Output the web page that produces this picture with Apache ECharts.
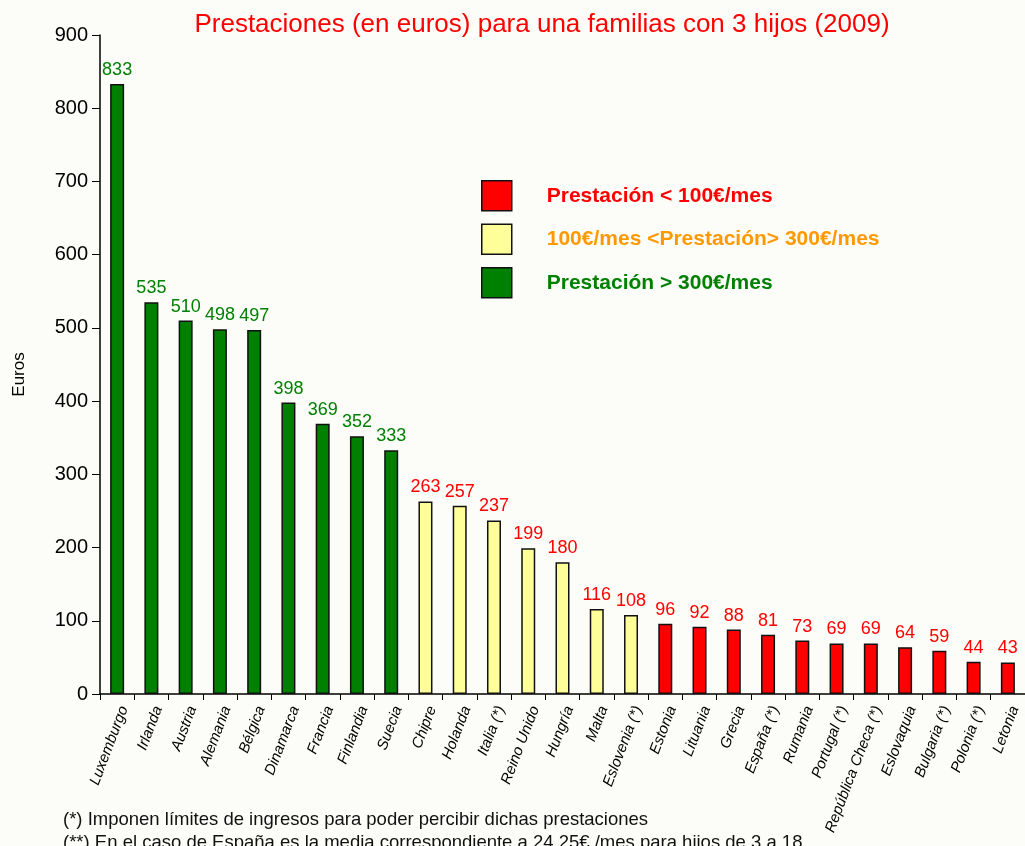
<!DOCTYPE html>
<html><head><meta charset="utf-8">
<script src="https://cdn.jsdelivr.net/npm/echarts@6/dist/echarts.min.js"></script>
<style>html,body{margin:0;padding:0;background:#fcfcf8}#c{width:1025px;height:846px}</style>
</head><body><div id="c"></div>
<script>
const categories = ['Luxemburgo','Irlanda','Austria','Alemania','Bélgica','Dinamarca','Francia','Finlandia','Suecia','Chipre','Holanda','Italia (*)','Reino Unido','Hungría','Malta','Eslovenia (*)','Estonia','Lituania','Grecia','España (*)','Rumania','Portugal (*)','República Checa (*)','Eslovaquia','Bulgaria (*)','Polonia (*)','Letonia'];
const values = [833,535,510,498,497,398,369,352,333,263,257,237,199,180,116,108,96,92,88,81,73,69,69,64,59,44,43];
const groups = ['high','high','high','high','high','high','high','high','high','mid','mid','mid','mid','mid','mid','mid','low','low','low','low','low','low','low','low','low','low','low'];
const yTicks = [0,100,200,300,400,500,600,700,800,900];
const title = 'Prestaciones (en euros) para una familias con 3 hijos (2009)';
const legendNames = {low:'Prestación < 100€/mes', mid:'100€/mes <Prestación> 300€/mes', high:'Prestación > 300€/mes'};
const footnotes = ['(*) Imponen límites de ingresos para poder percibir dichas prestaciones','(**) En el caso de España es la media correspondiente a 24.25€ /mes para hijos de 3 a 18'];

const fill = {low:'#ff0000', mid:'#ffff99', high:'#008000'};
const labelCol = {low:'#ff0000', mid:'#ff0000', high:'#008000'};
const legendCol = {low:'#ff0000', mid:'#ff9900', high:'#008000'};
const font = "Arial,'Liberation Sans',sans-serif";

function mk(g){
  return {
    name: legendNames[g], type:'bar', barWidth:14, barGap:'-100%',
    data: values.map((v,i)=> groups[i]===g ? v : '-'),
    itemStyle:{color:fill[g], borderColor:'#111', borderWidth:1.5},
    label:{show:true, position:'top', distance:5, color:labelCol[g], fontSize:18, fontFamily:font},
    animation:false
  };
}
const chart = echarts.init(document.getElementById('c'));
chart.setOption({
  backgroundColor:'#fcfcf8',
  animation:false,
  title:{text:title, left:537, top:7, textAlign:'center', textStyle:{color:'#ff0000', fontSize:26, fontWeight:'normal', fontFamily:font}},
  grid:{left:100, right:-4, top:35, bottom:152},
  legend:{
    orient:'vertical', left:481, top:180, padding:0, itemWidth:30, itemHeight:30, itemGap:12,
    icon:'rect',
    data:['low','mid','high'].map(g=>({name:legendNames[g], itemStyle:{borderColor:'#111', borderWidth:1.5}, textStyle:{color:legendCol[g]}})),
    textStyle:{fontSize:21, fontWeight:'bold', fontFamily:font, padding:[0,0,0,30]},
    selectedMode:false
  },
  xAxis:{
    type:'category', data:categories,
    axisLine:{lineStyle:{color:'#000', width:1.5}},
    axisTick:{show:true, length:6, lineStyle:{color:'#000'}},
    axisLabel:{interval:0, rotate:69, fontSize:15, fontStyle:'italic', color:'#000', fontFamily:font, margin:10, verticalAlign:'top'}
  },
  yAxis:{
    type:'value', min:0, max:900, interval:100,
    name:'Euros', nameLocation:'middle', nameGap:72, nameRotate:90,
    nameTextStyle:{fontSize:17, color:'#000', fontFamily:font, padding:[0,0,0,-20]},
    axisLine:{show:true, lineStyle:{color:'#000', width:1.5}},
    axisTick:{show:true, length:8, lineStyle:{color:'#000'}},
    splitLine:{show:false},
    axisLabel:{fontSize:20, color:'#000', fontFamily:font, margin:12,
      formatter:v=> yTicks.includes(v) ? String(v) : ''}
  },
  graphic:[
    {type:'text', left:63, top:810, style:{text:footnotes[0], fontSize:18.5, fill:'#111', fontFamily:font}},
    {type:'text', left:63, top:833, style:{text:footnotes[1], fontSize:18.5, fill:'#111', fontFamily:font}}
  ],
  series:['low','mid','high'].map(mk)
});
</script></body></html>
